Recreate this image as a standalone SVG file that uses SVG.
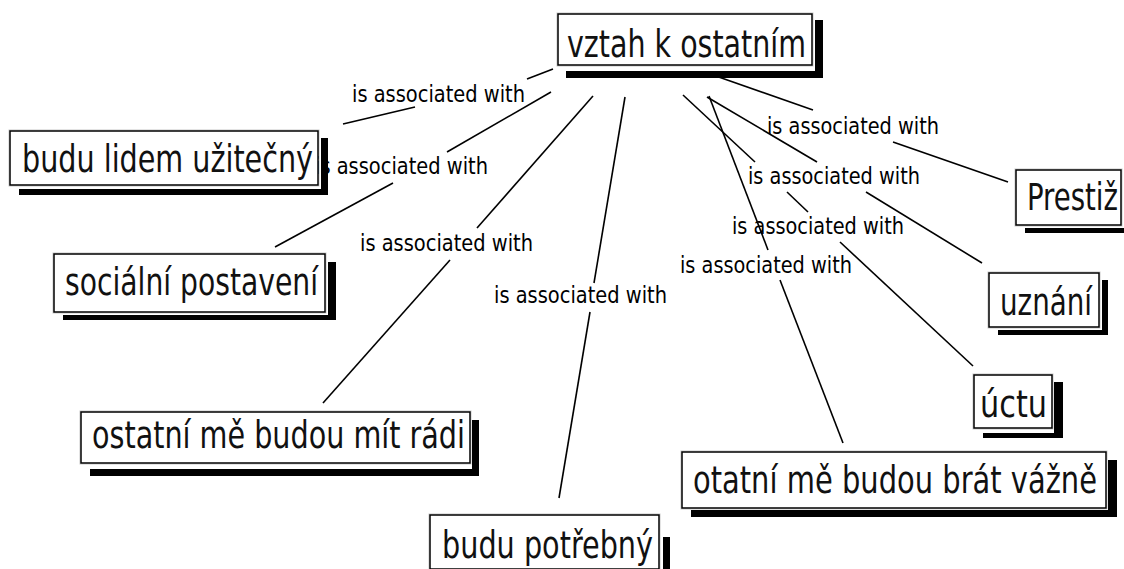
<svg xmlns="http://www.w3.org/2000/svg" width="1124" height="569" viewBox="0 0 1124 569">
  <style>
    .bg { fill: #ffffff; }
    .edge { stroke: #000; stroke-width: 1.6; fill: none; }
    .phrase { font-family: "DejaVu Sans Condensed", "DejaVu Sans", sans-serif; font-size: 22.5px; fill: #000; }
    .box { fill: #fff; stroke: #000; stroke-width: 1.5; }
    .ring { fill: none; stroke: #c8c8c8; stroke-width: 1; }
    .shadow { fill: #000; }
    .label { font-family: "DejaVu Sans Condensed", "DejaVu Sans", sans-serif; font-size: 37px; fill: #111; }
  </style>
  <rect class="bg" x="0" y="0" width="1124" height="569"/>

  <!-- connectors: concept -> linking phrase -> concept -->
  <g id="connectors">
    <line class="edge" x1="553" y1="69" x2="527" y2="79"/>
    <line class="edge" x1="415" y1="107" x2="343" y2="124"/>
    <line class="edge" x1="551" y1="92" x2="447" y2="152"/>
    <line class="edge" x1="393" y1="183" x2="275" y2="247"/>
    <line class="edge" x1="593" y1="96" x2="477" y2="228"/>
    <line class="edge" x1="450" y1="260" x2="323" y2="403"/>
    <line class="edge" x1="625" y1="97" x2="594" y2="283"/>
    <line class="edge" x1="590" y1="312" x2="559" y2="498"/>
    <line class="edge" x1="713" y1="75" x2="813" y2="110"/>
    <line class="edge" x1="893" y1="142" x2="1008" y2="182"/>
    <!-- to úctu -->
    <line class="edge" x1="683" y1="95" x2="755" y2="162"/>
    <line class="edge" x1="787" y1="192" x2="808" y2="212"/>
    <line class="edge" x1="840" y1="242" x2="973" y2="366"/>
    <!-- to uznání -->
    <line class="edge" x1="707" y1="97" x2="817" y2="162"/>
    <line class="edge" x1="866" y1="192" x2="982" y2="263"/>
    <!-- to otatní mě budou brát vážně -->
    <line class="edge" x1="709" y1="96" x2="768" y2="250"/>
    <line class="edge" x1="780" y1="280" x2="843" y2="443"/>
  </g>

  <!-- linking phrases -->
  <g id="phrases">
    <text class="phrase" x="352" y="102" textLength="173" lengthAdjust="spacingAndGlyphs">is associated with</text>
    <text class="phrase" x="315" y="174" textLength="173" lengthAdjust="spacingAndGlyphs">is associated with</text>
    <text class="phrase" x="360" y="251" textLength="173" lengthAdjust="spacingAndGlyphs">is associated with</text>
    <text class="phrase" x="494" y="303" textLength="173" lengthAdjust="spacingAndGlyphs">is associated with</text>
    <text class="phrase" x="767" y="134" textLength="172" lengthAdjust="spacingAndGlyphs">is associated with</text>
    <text class="phrase" x="748" y="184" textLength="172" lengthAdjust="spacingAndGlyphs">is associated with</text>
    <text class="phrase" x="732" y="234" textLength="172" lengthAdjust="spacingAndGlyphs">is associated with</text>
    <text class="phrase" x="680" y="273" textLength="172" lengthAdjust="spacingAndGlyphs">is associated with</text>
  </g>

  <!-- concepts -->
  <g id="n-vztah">
    <path class="shadow" d="M815,20 H823 V78 H566 V71 H815 Z"/>
    <rect class="ring" x="557" y="13" width="256" height="53"/>
    <rect class="box" x="558" y="14" width="254" height="51"/>
    <text class="label" x="567" y="57" textLength="239" lengthAdjust="spacingAndGlyphs">vztah k ostatním</text>
  </g>
  <g id="n-uzitecny">
    <path class="shadow" d="M321,138 H328 V195 H19 V189 H321 Z"/>
    <rect class="ring" x="9" y="130" width="310" height="56"/>
    <rect class="box" x="10" y="131" width="308" height="54"/>
    <text class="label" x="22" y="172" textLength="291" lengthAdjust="spacingAndGlyphs">budu lidem užitečný</text>
  </g>
  <g id="n-socialni">
    <path class="shadow" d="M328,262 H336 V320 H63 V315 H328 Z"/>
    <rect class="ring" x="53" y="253" width="273" height="60"/>
    <rect class="box" x="54" y="254" width="271" height="58"/>
    <text class="label" x="65" y="295" textLength="253" lengthAdjust="spacingAndGlyphs">sociální postavení</text>
  </g>
  <g id="n-radi">
    <path class="shadow" d="M472,420 H479 V476 H90 V469 H472 Z"/>
    <rect class="ring" x="80" y="411" width="391" height="53"/>
    <rect class="box" x="81" y="412" width="389" height="51"/>
    <text class="label" x="92" y="448" textLength="373" lengthAdjust="spacingAndGlyphs">ostatní mě budou mít rádi</text>
  </g>
  <g id="n-potrebny">
    <path class="shadow" d="M663,537 H670 V575 H439 V572 H663 Z"/>
    <rect class="ring" x="429" y="514" width="231" height="56"/>
    <rect class="box" x="430" y="515" width="229" height="54"/>
    <text class="label" x="442" y="558" textLength="211" lengthAdjust="spacingAndGlyphs">budu potřebný</text>
  </g>
  <g id="n-prestiz">
    <path class="shadow" d="M1124,228 V233 H1025 V228 Z"/>
    <rect class="ring" x="1015" y="169" width="107" height="57"/>
    <rect class="box" x="1016" y="170" width="105" height="55"/>
    <text class="label" x="1027" y="210" textLength="91" lengthAdjust="spacingAndGlyphs">Prestiž</text>
  </g>
  <g id="n-uznani">
    <path class="shadow" d="M1102,280 H1108 V335 H998 V330 H1102 Z"/>
    <rect class="ring" x="988" y="272" width="112" height="56"/>
    <rect class="box" x="989" y="273" width="110" height="54"/>
    <text class="label" x="1000" y="315" textLength="92" lengthAdjust="spacingAndGlyphs">uznání</text>
  </g>
  <g id="n-uctu">
    <path class="shadow" d="M1054,382 H1063 V438 H983 V433 H1054 Z"/>
    <rect class="ring" x="973" y="374" width="80" height="55"/>
    <rect class="box" x="974" y="375" width="78" height="53"/>
    <text class="label" x="980" y="417" textLength="67" lengthAdjust="spacingAndGlyphs">úctu</text>
  </g>
  <g id="n-vazne">
    <path class="shadow" d="M1108,460 H1117 V517 H691 V510 H1108 Z"/>
    <rect class="ring" x="681" y="451" width="426" height="58"/>
    <rect class="box" x="682" y="452" width="424" height="56"/>
    <text class="label" x="693" y="493" textLength="404" lengthAdjust="spacingAndGlyphs">otatní mě budou brát vážně</text>
  </g>
</svg>
